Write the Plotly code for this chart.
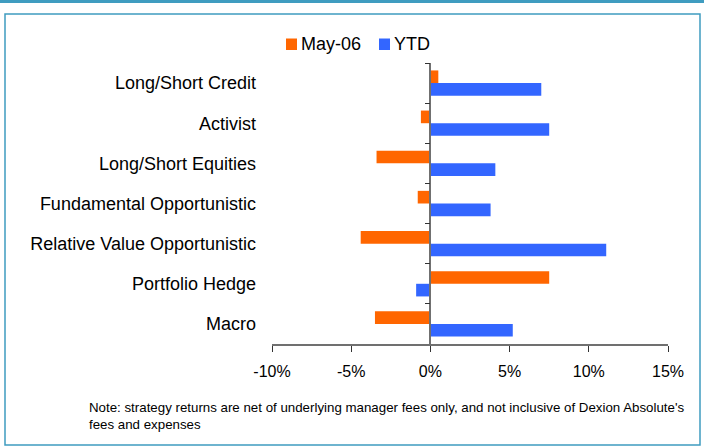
import plotly.graph_objects as go

categories = ["Long/Short Credit", "Activist", "Long/Short Equities",
              "Fundamental Opportunistic", "Relative Value Opportunistic",
              "Portfolio Hedge", "Macro"]
may06 = [0.5, -0.6, -3.4, -0.8, -4.4, 7.5, -3.5]
ytd = [7.0, 7.5, 4.1, 3.8, 11.1, -0.9, 5.2]
x_ticks = [-10, -5, 0, 5, 10, 15]
x_tick_labels = ["-10%", "-5%", "0%", "5%", "10%", "15%"]
series_names = ["May-06", "YTD"]
note = ("Note: strategy returns are net of underlying manager fees only, and not inclusive of Dexion Absolute's"
        "<br>fees and expenses")

FONT = "Liberation Sans, Arial, sans-serif"
ORANGE = "#FF6600"
BLUE = "#3366FF"
FRAME = "#3F9CC0"

fig = go.Figure()
fig.add_trace(go.Bar(y=categories, x=may06, name=series_names[0], orientation="h",
                     marker=dict(color=ORANGE, line=dict(width=0)), yaxis="y"))
fig.add_trace(go.Bar(y=categories, x=ytd, name=series_names[1], orientation="h",
                     marker=dict(color=BLUE, line=dict(width=0)), yaxis="y"))
# invisible helper trace so the label axis knows its categories
fig.add_trace(go.Scatter(y=categories, x=[0] * len(categories), mode="none",
                         showlegend=False, hoverinfo="skip", yaxis="y2"))

L, R, T, B = 272, 36, 63, 104
W, H = 704, 448
pw, ph = W - L - R, H - T - B

def px(xp):
    return (xp - L) / pw

def py(yp):
    return (H - B - yp) / ph

shapes = [
    dict(type="rect", xref="paper", yref="paper", x0=px(0), x1=px(W), y0=py(0), y1=py(3),
         fillcolor=FRAME, line=dict(width=0), layer="below"),
    dict(type="rect", xref="paper", yref="paper", x0=px(5), x1=px(700), y0=py(14), y1=py(445),
         fillcolor="rgba(0,0,0,0)", line=dict(color=FRAME, width=1.5), layer="below"),
]
annotations = [
    dict(text=note, xref="paper", yref="paper", x=px(87), y=py(398), xanchor="left",
         yanchor="top", align="left", showarrow=False, font=dict(size=13.3, color="black")),
]

# hand-placed legend (swatch + label) to match the compact original legend
legend_items = [(series_names[0], ORANGE, 286), (series_names[1], BLUE, 379)]
for name, color, x0 in legend_items:
    shapes.append(dict(type="rect", xref="paper", yref="paper", x0=px(x0), x1=px(x0 + 11),
                       y0=py(50), y1=py(38.5), fillcolor=color, line=dict(width=0)))
    annotations.append(dict(text=name, xref="paper", yref="paper", x=px(x0 + 13), y=py(44),
                            xanchor="left", yanchor="middle", showarrow=False,
                            font=dict(size=18, color="black")))

fig.update_layout(
    width=W, height=H,
    margin=dict(l=L, r=R, t=T, b=B, autoexpand=False),
    paper_bgcolor="white", plot_bgcolor="white",
    font=dict(family=FONT, size=16, color="black"),
    barmode="group", bargap=0.37, bargroupgap=0,
    showlegend=False,
    xaxis=dict(range=[-10, 15], tickmode="array", tickvals=x_ticks, ticktext=x_tick_labels,
               showgrid=False, zeroline=False, showline=True, linecolor="#707070",
               linewidth=1.5, ticks="outside", ticklen=6, tickcolor="#333333",
               tickwidth=1, tickfont=dict(size=16), ticklabelstandoff=6, domain=[0, 1],
               automargin=False),
    yaxis=dict(type="category", categoryarray=categories, categoryorder="array",
               range=[6.5, -0.5], anchor="free", position=0.4, side="left",
               showline=True, linecolor="#707070", linewidth=1.5,
               ticks="outside", ticklen=5, tickcolor="#333333", tickson="boundaries",
               showticklabels=False, showgrid=False, zeroline=False, automargin=False),
    yaxis2=dict(type="category", categoryarray=categories, categoryorder="array",
                range=[6.5, -0.5], overlaying="y", anchor="x", side="left",
                showline=False, ticks="", showticklabels=True, ticklabelstandoff=15,
                showgrid=False, zeroline=False, tickfont=dict(size=18), automargin=False),
    shapes=shapes,
    annotations=annotations,
)

fig.write_html("out.html", config={"displayModeBar": False},
               post_script="document.body.style.margin='0';")
